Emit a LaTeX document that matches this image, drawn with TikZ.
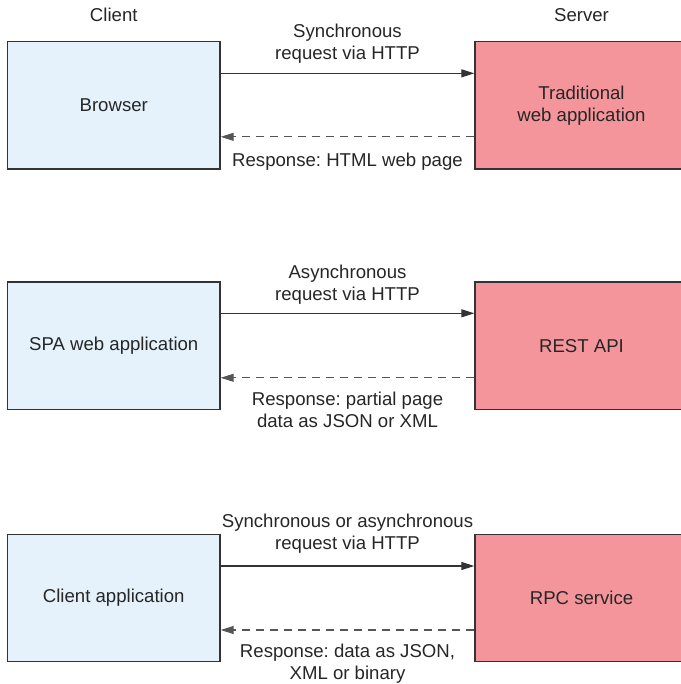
\documentclass[tikz,border=0pt]{standalone}
\usepackage{fontspec}
\setmainfont{Liberation Sans}
\usetikzlibrary{arrows.meta}
\frenchspacing
\definecolor{clientfill}{HTML}{E5F2FB}
\definecolor{serverfill}{HTML}{F4959B}
\definecolor{edgegray}{HTML}{333333}
\definecolor{txtgray}{HTML}{262626}
\definecolor{dashgray}{HTML}{555555}
\tikzset{
  every node/.style={font=\fontsize{18.6}{22}\selectfont\frenchspacing, text=txtgray},
  clientbox/.style={draw=edgegray, line width=1.4pt, fill=clientfill, minimum width=212.5pt, minimum height=127.5pt, inner sep=0pt, align=center},
  serverbox/.style={draw=edgegray, line width=1.4pt, fill=serverfill, minimum width=213pt, minimum height=127.5pt, inner sep=0pt, align=center},
  lbl/.style={align=center, inner sep=0pt},
  req/.style={draw=edgegray, line width=1.1pt, -{Stealth[length=13pt,width=8pt,inset=0pt]}},
  resp/.style={draw=dashgray, line width=1.1pt, dash pattern=on 8pt off 6pt, -{Stealth[length=13pt,width=8pt,inset=0pt]}}
}
\begin{document}
\begin{tikzpicture}[x=1pt,y=-1pt]
\useasboundingbox (0,0) rectangle (680,684);
% headers
\node[lbl] (client) at (113.75,15) {Client};
\node[lbl] (server) at (581.5,15) {Server};
% row 1
\node[clientbox] (b1) at (113.75,105.35) {Browser};
\node[serverbox] (s1) at (581.5,105.35) {Traditional\\web application};
\draw[req] ([yshift=32pt]b1.east) -- ([yshift=32pt]s1.west);
\draw[resp] ([yshift=-31.5pt]s1.west) -- ([yshift=-31.5pt]b1.east);
\node[lbl] (q1) at (347.5,44) {Synchronous\\request via HTTP};
\node[lbl] (r1) at (347.5,162) {Response: HTML web page};
% row 2
\node[clientbox] (b2) at (113.75,345.8) {SPA web application};
\node[serverbox] (s2) at (581.5,345.8) {REST API};
\draw[req] ([yshift=32.5pt]b2.east) -- ([yshift=32.5pt]s2.west);
\draw[resp] ([yshift=-32pt]s2.west) -- ([yshift=-32pt]b2.east);
\node[lbl] (q2) at (347.5,284.5) {Asynchronous\\request via HTTP};
\node[lbl] (r2) at (347.5,409.5) {Response: partial page\\data as JSON or XML};
% row 3
\node[clientbox] (b3) at (113.75,598) {Client application};
\node[serverbox] (s3) at (581.5,598) {RPC service};
\draw[req] ([yshift=32pt]b3.east) -- ([yshift=32pt]s3.west);
\draw[resp] ([yshift=-32pt]s3.west) -- ([yshift=-32pt]b3.east);
\node[lbl] (q3) at (347.5,533.5) {Synchronous or asynchronous\\request via HTTP};
\node[lbl] (r3) at (347.5,664) {Response: data as JSON,\\XML or binary};
\end{tikzpicture}
\end{document}
